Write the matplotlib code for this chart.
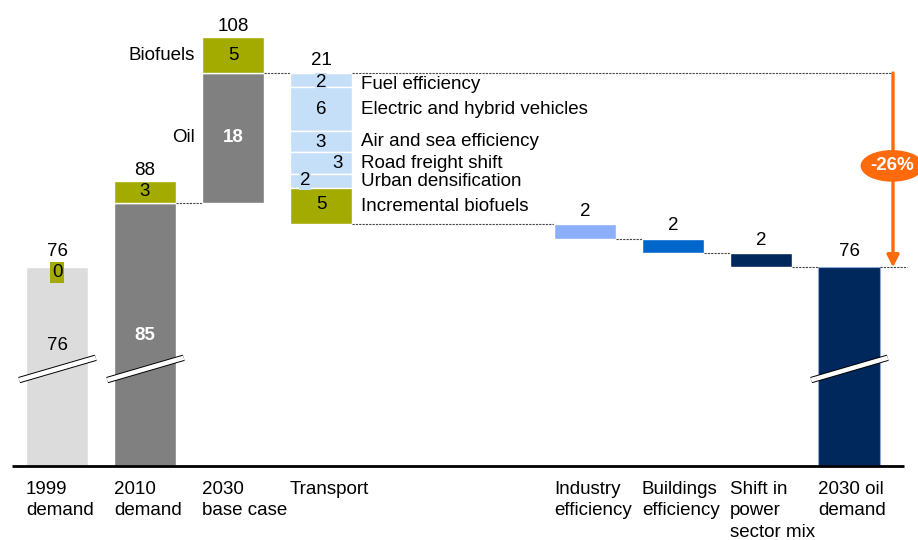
import matplotlib.pyplot as plt
from matplotlib.patches import Ellipse

plt.rcParams['font.family'] = ['Liberation Sans', 'DejaVu Sans']
plt.rcParams['font.size'] = 13.5

# oil demand, million barrels per day
categories = ["1999\ndemand", "2010\ndemand", "2030\nbase case", "Transport",
              "Industry\nefficiency", "Buildings\nefficiency",
              "Shift in\npower\nsector mix", "2030 oil\ndemand"]
positions = [0, 1, 2, 3, 6, 7, 8, 9]

oil_1999, bio_1999 = 76, 0
oil_2010, bio_2010 = 85, 3
oil_growth_2030, bio_2030 = 18, 5

transport_levers = ["Fuel efficiency", "Electric and hybrid vehicles",
                    "Air and sea efficiency", "Road freight shift",
                    "Urban densification", "Incremental biofuels"]
transport_values = [2, 6, 3, 3, 2, 5]
transport_total = 21
other_values = [2, 2, 2]
final_demand = 76
change_pct = -26

GREY_LIGHT = "#DCDCDC"
GREY = "#808080"
OLIVE = "#A3AA00"
LIGHT_BLUE = "#C6DFF9"
OTHER_COLORS = ["#8DAEF8", "#0066CC", "#00285C"]
NAVY = "#00285C"
ORANGE = "#FF6A0D"

W = 0.705
floor = 48.4      # axis is broken, bars start here
brk = 61.9        # height of the break marks

fig = plt.figure(figsize=(9.18, 5.4), dpi=100)
ax = fig.add_axes([0, 0, 1, 1])
ax.set_xlim(-0.648, 9.784)
ax.set_ylim(38.14, 113.14)
ax.axis("off")

edge = dict(edgecolor="white", linewidth=1)

def top_label(x, y, s, dy=1.5):
    ax.annotate(s, (x, y), xytext=(0, dy), textcoords="offset points",
                ha="center", va="bottom")

def dotted(y, x0, x1):
    ax.plot([x0, x1], [y, y], color="#444444", lw=0.8, ls=(0, (2, 1)), zorder=1)

def break_mark(x):
    xs = [x - 0.43, x + 0.44]
    ys = [brk - 1.55, brk + 1.55]
    ax.plot(xs, ys, color="black", lw=4.6, solid_capstyle="butt", zorder=5)
    ax.plot(xs, ys, color="white", lw=3.2, solid_capstyle="butt", zorder=6)

# 1999 demand
x = positions[0]
ax.bar(x, oil_1999 - floor, W, bottom=floor, color=GREY_LIGHT, **edge)
ax.text(x, oil_1999 - 10.8, str(oil_1999), ha="center", va="center")
ax.text(x, oil_1999 + bio_1999 - 0.7, str(bio_1999), ha="center", va="center",
        bbox=dict(boxstyle="square,pad=0.1", fc=OLIVE, ec="none"))
ax.annotate(str(oil_1999 + bio_1999), (x, oil_1999 + bio_1999), xytext=(0, 5),
            textcoords="offset points", ha="center", va="bottom")
break_mark(x)

# 2010 demand
x = positions[1]
ax.bar(x, oil_2010 - floor, W, bottom=floor, color=GREY, **edge)
ax.bar(x, bio_2010, W, bottom=oil_2010, color=OLIVE, **edge)
ax.text(x, oil_2010 - 18.5, str(oil_2010), ha="center", va="center",
        color="white", fontweight="bold")
ax.text(x, oil_2010 + bio_2010 / 2, str(bio_2010), ha="center", va="center")
top_label(x, oil_2010 + bio_2010, str(oil_2010 + bio_2010))
break_mark(x)
dotted(oil_2010, x + W / 2, positions[2] - W / 2)

# 2030 base case
x = positions[2]
oil_2030 = oil_2010 + oil_growth_2030
ax.bar(x, oil_growth_2030, W, bottom=oil_2010, color=GREY, **edge)
ax.bar(x, bio_2030, W, bottom=oil_2030, color=OLIVE, **edge)
ax.text(x, oil_2010 + oil_growth_2030 / 2, str(oil_growth_2030),
        ha="center", va="center", color="white", fontweight="bold")
ax.text(x, oil_2030 + bio_2030 / 2, str(bio_2030), ha="center", va="center")
ax.text(x - W / 2 - 0.08, oil_2030 + bio_2030 / 2, "Biofuels", ha="right", va="center")
ax.text(x - W / 2 - 0.08, oil_2010 + oil_growth_2030 / 2, "Oil",
        ha="right", va="center")
top_label(x, oil_2030 + bio_2030, str(oil_2030 + bio_2030))
dotted(oil_2030, x + W / 2, positions[3] - W / 2)

# transport levers, stacked downwards
x = positions[3]
level = oil_2030
num_dx = [0, 0, 0, 0.19, -0.18, 0]
num_dy = [-0.3, 0, -0.2, 0, 0.1, 0.3]
for i, (name, v) in enumerate(zip(transport_levers, transport_values)):
    c = OLIVE if i == len(transport_values) - 1 else LIGHT_BLUE
    ax.bar(x, v, W, bottom=level - v, color=c, **edge)
    mid = level - v / 2
    box = None
    if v <= 2:
        box = dict(boxstyle="square,pad=0.05", fc=LIGHT_BLUE, ec="none")
    ax.text(x + num_dx[i], mid + num_dy[i], str(v), ha="center", va="center",
            bbox=box, zorder=4)
    ax.text(x + W / 2 + 0.1, mid - (0.6 if i == 0 else 0), name,
            ha="left", va="center")
    level -= v
ax.annotate(str(transport_total), (x, oil_2030), xytext=(0, 3),
            textcoords="offset points", ha="center", va="bottom")
dotted(oil_2030, x + W / 2, 9.49)
dotted(level, x + W / 2, positions[4] - W / 2)

# remaining levers
for j, (v, c) in enumerate(zip(other_values, OTHER_COLORS)):
    x = positions[4 + j]
    ax.bar(x, v, W, bottom=level - v, color=c, **edge)
    top_label(x, level, str(v), dy=3)
    level -= v
    dotted(level, x + W / 2, positions[5 + j] - W / 2)

# 2030 oil demand
x = positions[7]
ax.bar(x, final_demand - floor, W, bottom=floor, color=NAVY, edgecolor="#8FA8D8", lw=0.8)
ax.annotate(str(final_demand), (x, final_demand), xytext=(0, 5),
            textcoords="offset points", ha="center", va="bottom")
break_mark(x)
dotted(final_demand, x + W / 2, 9.66)

# overall change arrow
ax_x = 9.5
ax.annotate("", xy=(ax_x, final_demand), xytext=(ax_x, oil_2030),
            arrowprops=dict(arrowstyle="-|>", color=ORANGE, lw=2.4,
                            mutation_scale=18, shrinkA=0, shrinkB=0))
mid = (oil_2030 + final_demand) / 2 + 0.6
ax.add_patch(Ellipse((ax_x - 0.01, mid), 0.7, 4.2, color=ORANGE, zorder=5))
ax.text(ax_x - 0.01, mid, f"{change_pct}%", ha="center", va="center",
        color="white", fontweight="bold", zorder=6)

# baseline and category labels
ax.plot([-0.511, 9.625], [floor, floor], color="black", lw=2, solid_capstyle="butt")
for x, lab in zip(positions, categories):
    ax.text(x - W / 2, floor - 2.0, lab, ha="left", va="top", linespacing=1.38)

fig.savefig("out.png", dpi=100)
